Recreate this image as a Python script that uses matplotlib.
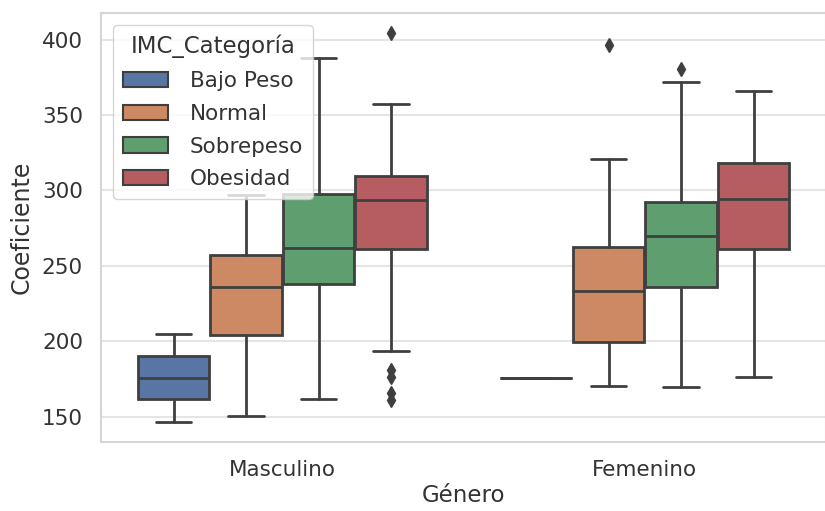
import numpy as np
import matplotlib
matplotlib.use("Agg")
import matplotlib.pyplot as plt
import seaborn as sns
from matplotlib.patches import Patch

sns.set_theme(style="whitegrid")

generos = ["Masculino", "Femenino"]
categorias = ["Bajo Peso", "Normal", "Sobrepeso", "Obesidad"]

# per genero, per categoria: whislo, q1, med, q3, whishi
whislo = [[146.7, 150.3, 161.8, 193.8], [175.5, 170.6, 169.5, 176.2]]
q1 = [[161.6, 204.2, 237.9, 261.3], [175.5, 199.8, 236.3, 261.3]]
med = [[175.5, 236.3, 261.8, 293.8], [175.5, 233.4, 269.9, 294.3]]
q3 = [[190.3, 256.9, 297.6, 309.8], [175.5, 262.4, 292.3, 318.2]]
whishi = [[204.7, 296.7, 387.8, 357.5], [175.5, 320.8, 371.9, 365.7]]
fliers = [[[], [], [], [404.4, 181, 176, 166, 161]], [[], [396.7], [380.5], []]]

fig = plt.figure(figsize=(8.25, 5.11), dpi=100)
ax = fig.add_axes([101 / 825, 69 / 511, 725 / 825, 429 / 511])

palette = sns.color_palette("deep")
colors = [sns.desaturate(c, 0.75) for c in palette[:4]]
line_col = "#3f3f3f"

n = len(categorias)
width = 0.8 / n
for g in range(len(generos)):
    for k in range(n):
        pos = g - 0.4 + width * (k + 0.5)
        stats = [dict(whislo=whislo[g][k], q1=q1[g][k], med=med[g][k], q3=q3[g][k],
                      whishi=whishi[g][k], fliers=fliers[g][k])]
        ax.bxp(stats, positions=[pos], widths=width * 0.98, patch_artist=True,
               boxprops=dict(facecolor=colors[k], edgecolor=line_col, linewidth=2),
               medianprops=dict(color=line_col, linewidth=2),
               whiskerprops=dict(color=line_col, linewidth=2),
               capprops=dict(color=line_col, linewidth=2),
               flierprops=dict(marker="d", markerfacecolor=line_col, markeredgecolor=line_col,
                               markersize=7, linestyle="none"),
               manage_ticks=False)

ax.set_xlim(-0.5, 1.5)
ax.set_ylim(133.2, 417.7)
ax.set_xticks(range(len(generos)))
ax.set_xticklabels(generos)
ax.set_yticks([150, 200, 250, 300, 350, 400])
ax.xaxis.grid(False)
ax.yaxis.grid(True, color="#e5e5e5", linewidth=1.5)
for s in ax.spines.values():
    s.set_color("#d5d5d5")
    s.set_linewidth(1.5)
ax.tick_params(axis="both", labelsize=15.5, colors="#333333", pad=7)
ax.set_xlabel("Género", fontsize=16.5, color="#333333", labelpad=3)
ax.set_ylabel("Coeficiente", fontsize=17, color="#333333", labelpad=6)

handles = [Patch(facecolor=colors[k], edgecolor=line_col, linewidth=1.5, label=categorias[k]) for k in range(n)]
leg = ax.legend(handles=handles, title="IMC_Categoría", loc="upper left", fontsize=15.5,
                title_fontsize=16.5, bbox_to_anchor=(0.002, 0.998), frameon=True,
                handlelength=2.1, handleheight=0.7, labelspacing=0.6, borderpad=0.45,
                handletextpad=1.0)
for t in leg.get_texts():
    t.set_color("#333333")
leg.get_title().set_color("#333333")

plt.savefig("out.png", dpi=100)
